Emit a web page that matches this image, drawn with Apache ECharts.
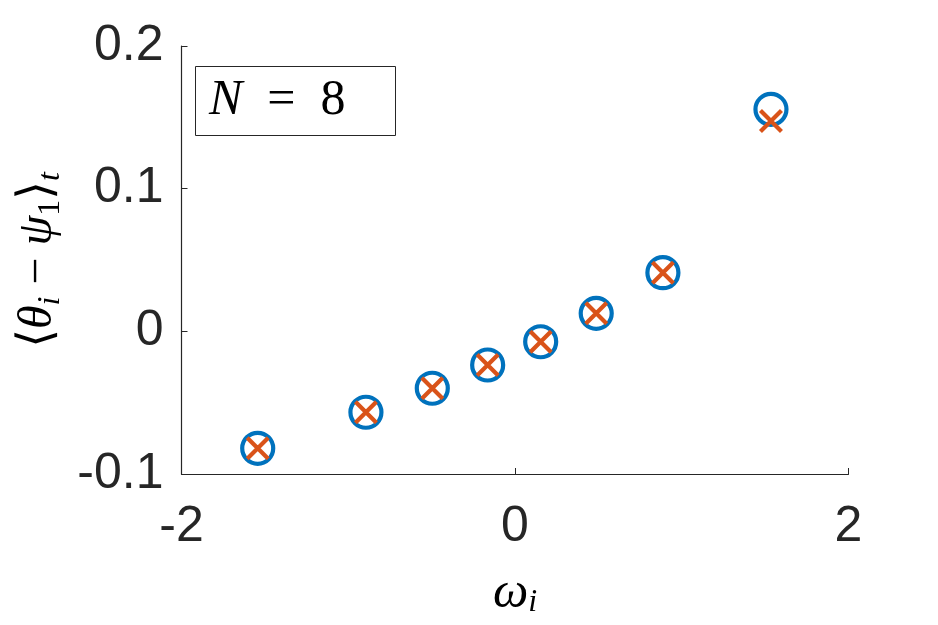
<!DOCTYPE html>
<html>
<head>
<meta charset="utf-8">
<script src="https://cdn.jsdelivr.net/npm/echarts@6/dist/echarts.min.js"></script>
<style>
  html, body { margin: 0; padding: 0; background: #fff; }
  #main { width: 938px; height: 625px; }
</style>
</head>
<body>
<div id="main"></div>
<script>
// omega_i values and time-averaged phase offsets
const omega = [-1.543, -0.894, -0.496, -0.164, 0.154, 0.487, 0.887, 1.535];
const simulated = [-0.0820, -0.0567, -0.0399, -0.0236, -0.0073, 0.0126, 0.0411, 0.1556];
const predicted = [-0.0820, -0.0567, -0.0399, -0.0236, -0.0073, 0.0126, 0.0411, 0.1474];
const xTicks = [-2, 0, 2];
const yTicks = [-0.1, 0, 0.1, 0.2];

const axisColor = '#262626';
const sans = '"Liberation Sans", Arial, Helvetica, sans-serif';
const serif = '"Liberation Serif", "DejaVu Serif", "DejaVu Sans", serif';

const chart = echarts.init(document.getElementById('main'));

const option = {
  animation: false,
  title: {
    text: '{n|N}{t|\u2002=\u20028}',
    left: 195,
    top: 63,
    padding: [10, 50, 10, 14],
    borderColor: axisColor,
    borderWidth: 1,
    textStyle: {
      fontWeight: 'normal',
      rich: {
        n: { fontFamily: serif, fontStyle: 'italic', fontWeight: 'normal', fontSize: 50, color: '#000', lineHeight: 56 },
        t: { fontFamily: serif, fontWeight: 'normal', fontSize: 50, color: '#000', lineHeight: 56 }
      }
    }
  },
  grid: { left: 181.5, right: 89.5, top: 46, bottom: 151, containLabel: false },
  xAxis: {
    type: 'value',
    min: -2,
    max: 2,
    interval: 2,
    name: '{w|ω}{s|i}',
    nameLocation: 'middle',
    nameGap: 95,
    nameTextStyle: {
      rich: {
        w: { fontFamily: serif, fontStyle: 'italic', fontSize: 50, color: '#000', lineHeight: 50 },
        s: { fontFamily: serif, fontStyle: 'italic', fontSize: 32, color: '#000', lineHeight: 30, verticalAlign: 'bottom' }
      }
    },
    axisLine: { show: true, onZero: false, lineStyle: { color: axisColor, width: 1.2 } },
    axisTick: { show: true, inside: true, length: 6, lineStyle: { color: axisColor } },
    axisLabel: {
      margin: 28,
      fontFamily: sans,
      fontSize: 50,
      color: axisColor,
      formatter: v => xTicks.includes(v) ? String(v) : ''
    },
    splitLine: { show: false }
  },
  yAxis: {
    type: 'value',
    min: -0.1,
    max: 0.2,
    interval: 0.1,
    name: '{b|⟨}{m|θ}{s|i}{b| − }{m|ψ}{r|1}{b|⟩}{s|t}',
    nameLocation: 'middle',
    nameRotate: 90,
    nameGap: 110,
    nameTextStyle: {
      rich: {
        b: { fontFamily: serif, fontSize: 48, color: '#000', lineHeight: 56 },
        m: { fontFamily: serif, fontStyle: 'italic', fontSize: 48, color: '#000', lineHeight: 56 },
        s: { fontFamily: serif, fontStyle: 'italic', fontSize: 32, color: '#000', lineHeight: 32, verticalAlign: 'bottom' },
        r: { fontFamily: serif, fontSize: 32, color: '#000', lineHeight: 32, verticalAlign: 'bottom' }
      }
    },
    axisLine: { show: true, onZero: false, lineStyle: { color: axisColor, width: 1.2 } },
    axisTick: { show: true, inside: true, length: 6, lineStyle: { color: axisColor } },
    axisLabel: {
      margin: 18,
      fontFamily: sans,
      fontSize: 50,
      color: axisColor,
      padding: [8, 0, 0, 0],
      formatter: v => {
        const r = Math.round(v * 10) / 10;
        return yTicks.includes(r) ? String(r) : '';
      }
    },
    splitLine: { show: false }
  },
  series: [
    {
      name: 'simulated',
      type: 'scatter',
      symbol: 'circle',
      symbolSize: 31,
      data: omega.map((w, i) => [w, simulated[i]]),
      itemStyle: { color: 'transparent', borderColor: '#0072BD', borderWidth: 4.2, opacity: 1 },
      z: 2
    },
    {
      name: 'predicted',
      type: 'scatter',
      symbol: 'path://M0,0L10,10M10,0L0,10',
      symbolSize: 21,
      data: omega.map((w, i) => [w, predicted[i]]),
      itemStyle: { color: 'transparent', borderColor: '#D95319', borderWidth: 4.2, opacity: 1 },
      z: 3
    }
  ]
};

chart.setOption(option);
</script>
</body>
</html>
